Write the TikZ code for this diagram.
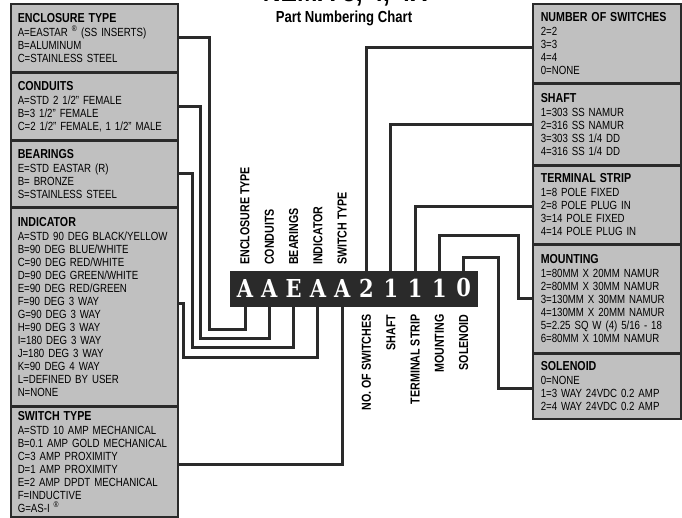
\documentclass[tikz,border=0pt]{standalone}
\usepackage{fontspec}
\setmainfont[FakeStretch=0.82]{Liberation Sans}
\newfontfamily\codefont[FakeStretch=0.85]{DejaVu Serif}
\usetikzlibrary{positioning}
\definecolor{panelgrey}{RGB}{192,192,192}
\definecolor{ink}{RGB}{42,42,42}
\newcommand\itemfont{\fontsize{11.8}{13}\selectfont}
\newcommand\headfont{\fontsize{13}{15}\selectfont\bfseries}
\newcommand\boxhead[1]{{\headfont #1}\\[1pt]}
\tikzset{
  panel/.style={draw=ink,fill=panelgrey,line width=1.5pt,anchor=north west,
    align=left,font=\itemfont,inner ysep=0pt},
  leftpanel/.style={panel,text width=153pt,inner xsep=7pt,minimum height=#1},
  rightpanel/.style={panel,text width=132pt,inner xsep=8pt,minimum height=#1},
  wire/.style={draw=ink,line width=3pt},
  codebar/.style={fill=ink,anchor=north west,minimum width=248pt,minimum height=36pt},
  codechar/.style={text=white,font=\codefont\fontsize{24.7}{26}\selectfont\bfseries,inner sep=0pt},
  vlabel/.style={rotate=90,font=\headfont,inner sep=0pt},
}

\begin{document}
\begin{tikzpicture}[x=1pt,y=-1pt]
  \useasboundingbox (0,0) rectangle (682,517);
  \clip (0,0) rectangle (682,517);
  % titles
  \node[font=\fontsize{30}{32}\selectfont\bfseries,anchor=base] (nema) at (345,1) {NEMA 3, 4, 4X};
  \node[font=\fontsize{16}{18}\selectfont\bfseries,anchor=base] (chart) at (344,22) {Part Numbering Chart};
  % left column
  \node[leftpanel=68pt] (encl) at (10,3) {\boxhead{ENCLOSURE TYPE}A=EASTAR \textsuperscript{®} (SS INSERTS)\\B=ALUMINUM\\C=STAINLESS STEEL};
  \node[leftpanel=66pt] (cond) at (encl.south west) {\boxhead{CONDUITS}A=STD 2 1/2" FEMALE\\B=3 1/2" FEMALE\\C=2 1/2" FEMALE, 1 1/2" MALE};
  \node[leftpanel=66pt] (bear) at (cond.south west) {\boxhead{BEARINGS}E=STD EASTAR (R)\\B= BRONZE\\S=STAINLESS STEEL};
  \node[leftpanel=197pt] (indi) at (bear.south west) {\boxhead{INDICATOR}A=STD 90 DEG BLACK/YELLOW\\B=90 DEG BLUE/WHITE\\C=90 DEG RED/WHITE\\D=90 DEG GREEN/WHITE\\E=90 DEG RED/GREEN\\F=90 DEG 3 WAY\\G=90 DEG 3 WAY\\H=90 DEG 3 WAY\\I=180 DEG 3 WAY\\J=180 DEG 3 WAY\\K=90 DEG 4 WAY\\L=DEFINED BY USER\\N=NONE};
  \node[leftpanel=110pt] (swit) at (indi.south west) {\boxhead{SWITCH TYPE}A=STD 10 AMP MECHANICAL\\B=0.1 AMP GOLD MECHANICAL\\C=3 AMP PROXIMITY\\D=1 AMP PROXIMITY\\E=2 AMP DPDT MECHANICAL\\F=INDUCTIVE\\G=AS-I \textsuperscript{®}};
  % right column
  \node[rightpanel=79pt] (nsw) at (532,3) {\boxhead{NUMBER OF SWITCHES}2=2\\3=3\\4=4\\0=NONE};
  \node[rightpanel=80pt] (shaft) at (nsw.south west) {\boxhead{SHAFT}1=303 SS NAMUR\\2=316 SS NAMUR\\3=303 SS 1/4 DD\\4=316 SS 1/4 DD};
  \node[rightpanel=78pt] (term) at (shaft.south west) {\boxhead{TERMINAL STRIP}1=8 POLE FIXED\\2=8 POLE PLUG IN\\3=14 POLE FIXED\\4=14 POLE PLUG IN};
  \node[rightpanel=107pt] (mount) at (term.south west) {\boxhead{MOUNTING}1=80MM X 20MM NAMUR\\2=80MM X 30MM NAMUR\\3=130MM X 30MM NAMUR\\4=130MM X 20MM NAMUR\\5=2.25 SQ W (4) 5/16 - 18\\6=80MM X 10MM NAMUR};
  \node[rightpanel=65pt] (sol) at (mount.south west) {\boxhead{SOLENOID}0=NONE\\1=3 WAY 24VDC 0.2 AMP\\2=4 WAY 24VDC 0.2 AMP};
  % part number
  \node[codebar] (bar) at (230,271) {};
  \foreach \ch [count=\i] in {A,A,E,A,A,2,1,1,1,0}
    \node[codechar] (c\i) at ({245+24.3*(\i-1)},288) {\ch};
  \foreach \i in {1,...,10} {
    \coordinate (t\i) at (c\i |- bar.north);
    \coordinate (b\i) at (c\i |- bar.south);
  }
  \foreach \i/\txt in {1/ENCLOSURE TYPE,2/CONDUITS,3/BEARINGS,4/INDICATOR,5/SWITCH TYPE}
    \node[vlabel,anchor=west] (u\i) at ([yshift=6pt]t\i) {\txt};
  \foreach \i/\txt in {6/NO. OF SWITCHES,7/SHAFT,8/TERMINAL STRIP,9/MOUNTING,10/SOLENOID}
    \node[vlabel,anchor=east] (l\i) at ([yshift=-7pt]b\i) {\txt};
  % wires
  \draw[wire] (encl.east) -| (209,329) -| (b1);
  \draw[wire] (cond.east) -| (200.5,338) -| (b2);
  \draw[wire] (bear.east) -| (192,347) -| (b3);
  \draw[wire] ([yshift=3pt]indi.east) -| (183,357) -| (b4);
  \draw[wire] ([yshift=-3pt]swit.east) -| (b5);
  \draw[wire] (t6) |- ([yshift=-4pt]nsw.west);
  \draw[wire] (t7) |- (shaft.west);
  \draw[wire] (t8) |- ([yshift=-2pt]term.west);
  \draw[wire] (t9) |- (518,235) |- (mount.west);
  \draw[wire] (t10) |- (498,257) |- ([yshift=-2pt]sol.west);
\end{tikzpicture}
\end{document}
